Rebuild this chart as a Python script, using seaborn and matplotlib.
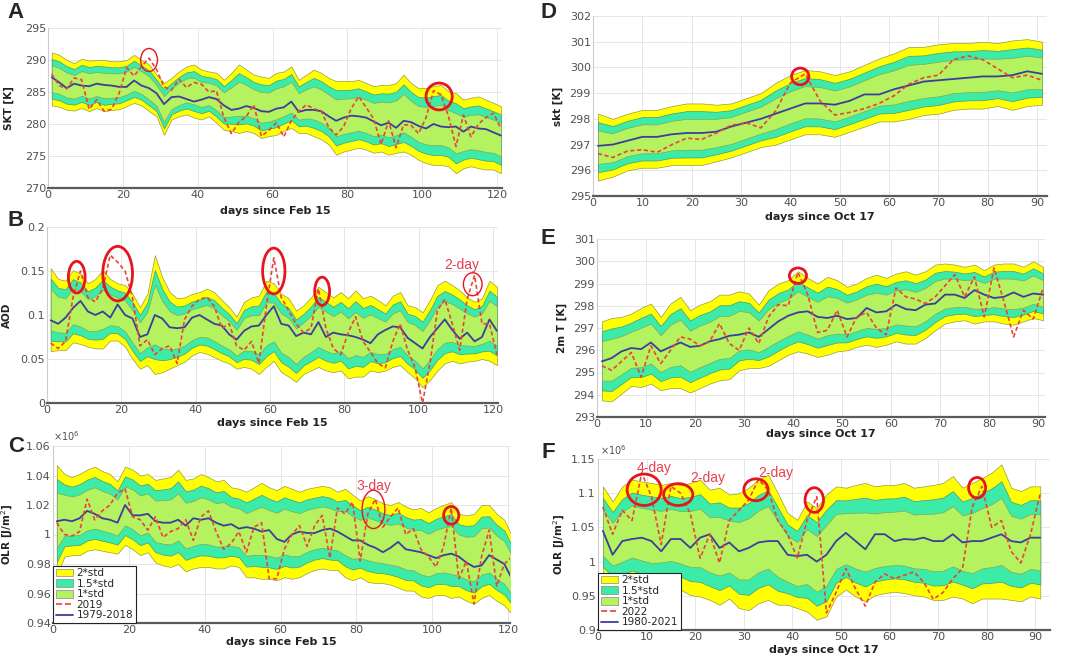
import numpy as np
import seaborn as sns
import matplotlib.pyplot as plt
from matplotlib.patches import Ellipse, Patch
from matplotlib.lines import Line2D

sns.set_theme(style="whitegrid")
plt.rcParams["font.family"] = ["DejaVu Sans"]

# ---------------- data ----------------
# panel A: SKT, days since Feb 15 (every 2nd day)
a_days = list(range(1, 122, 2))
a_upper = [291.2, 290.8, 290.0, 289.5, 290.2, 289.9, 290.0, 290.0, 289.8, 289.8,
           290.0, 290.8, 290.0, 289.3, 287.7, 286.4, 287.2, 288.2, 289.0, 289.3,
           288.5, 288.2, 288.0, 286.9, 288.0, 289.3, 288.5, 287.7, 287.4, 287.2,
           288.0, 288.2, 289.0, 286.9, 287.7, 288.5, 288.0, 287.2, 286.7, 286.7,
           286.7, 286.9, 286.4, 285.9, 286.1, 286.1, 286.4, 287.7, 286.4, 285.6,
           285.6, 285.9, 286.1, 285.1, 284.8, 283.8, 284.1, 284.3, 283.8, 283.3,
           282.8]
a_lower = [282.9, 282.7, 282.2, 282.1, 282.5, 282.0, 282.5, 282.0, 282.2, 282.3,
           282.8, 283.3, 282.9, 282.0, 281.2, 278.3, 280.7, 281.2, 281.5, 281.0,
           280.7, 281.2, 280.2, 279.1, 278.9, 278.6, 278.9, 278.6, 277.8, 278.1,
           278.3, 278.9, 279.4, 278.6, 278.6, 278.1, 277.6, 276.8, 275.2, 275.7,
           276.0, 276.3, 276.0, 275.5, 275.7, 275.2, 275.5, 275.7, 275.2, 274.4,
           273.9, 273.6, 273.6, 273.4, 272.3, 273.1, 273.4, 273.1, 272.9, 272.9,
           272.3]
a_clim = [287.3, 286.5, 285.6, 286.3, 286.0, 285.9, 286.3, 286.1, 286.0, 285.8,
          285.8, 286.8, 286.0, 285.6, 284.8, 283.1, 284.2, 284.3, 283.9, 283.5,
          283.8, 284.2, 283.9, 282.9, 282.2, 282.4, 282.8, 282.5, 282.0, 281.9,
          282.4, 282.6, 283.5, 281.9, 282.2, 282.2, 282.0, 281.2, 280.5, 281.0,
          281.3, 281.2, 281.0, 280.4, 279.8, 280.2, 279.4, 280.5, 280.3, 279.7,
          279.3, 280.0, 279.6, 279.5, 279.6, 278.8, 279.6, 279.3, 279.2, 278.7,
          278.2]
a_year = [287.8, 286.0, 285.5, 287.2, 286.9, 282.3, 283.8, 282.0, 282.3, 284.8,
          288.8, 287.5, 289.0, 290.3, 288.5, 285.8, 285.3, 287.0, 285.7, 286.5,
          286.2, 285.0, 285.2, 281.0, 278.5, 280.3, 281.2, 283.0, 278.1, 279.0,
          280.2, 278.0, 280.5, 282.0, 283.0, 282.4, 282.0, 279.5, 278.3, 279.6,
          282.4, 284.3, 282.6, 280.8, 276.8, 280.5, 276.3, 279.9, 279.8, 278.5,
          281.0, 285.2, 284.6, 281.2, 276.5, 281.4, 278.0, 280.0, 281.0, 281.7,
          279.3]

# panel B: AOD
b_days = list(range(1, 122, 2))
b_upper = [0.153, 0.141, 0.139, 0.151, 0.147, 0.136, 0.141, 0.151, 0.141, 0.136,
           0.134, 0.124, 0.109, 0.124, 0.168, 0.143, 0.126, 0.119, 0.120, 0.124,
           0.126, 0.130, 0.126, 0.117, 0.109, 0.098, 0.115, 0.120, 0.122, 0.139,
           0.136, 0.124, 0.119, 0.105, 0.111, 0.120, 0.132, 0.126, 0.120, 0.126,
           0.119, 0.128, 0.119, 0.122, 0.117, 0.111, 0.122, 0.126, 0.111, 0.109,
           0.103, 0.117, 0.134, 0.139, 0.134, 0.128, 0.120, 0.115, 0.119, 0.139,
           0.132]
b_lower = [0.059, 0.060, 0.060, 0.069, 0.067, 0.064, 0.062, 0.062, 0.071, 0.071,
           0.064, 0.050, 0.039, 0.043, 0.033, 0.035, 0.039, 0.043, 0.047, 0.054,
           0.058, 0.056, 0.052, 0.048, 0.045, 0.039, 0.041, 0.039, 0.033, 0.041,
           0.048, 0.035, 0.030, 0.024, 0.033, 0.037, 0.041, 0.037, 0.035, 0.037,
           0.028, 0.030, 0.030, 0.037, 0.035, 0.037, 0.041, 0.043, 0.035, 0.028,
           0.018, 0.026, 0.037, 0.045, 0.048, 0.045, 0.047, 0.048, 0.050, 0.048,
           0.043]
b_clim = [0.094, 0.090, 0.097, 0.108, 0.116, 0.104, 0.100, 0.104, 0.097, 0.112,
          0.100, 0.096, 0.075, 0.078, 0.100, 0.096, 0.086, 0.085, 0.086, 0.097,
          0.100, 0.095, 0.090, 0.088, 0.078, 0.072, 0.082, 0.087, 0.088, 0.100,
          0.110, 0.090, 0.088, 0.076, 0.080, 0.078, 0.092, 0.075, 0.080, 0.078,
          0.077, 0.075, 0.072, 0.068, 0.078, 0.083, 0.087, 0.086, 0.074, 0.068,
          0.062, 0.075, 0.085, 0.095, 0.083, 0.073, 0.080, 0.070, 0.075, 0.095,
          0.082]
b_year = [0.068, 0.062, 0.070, 0.120, 0.150, 0.120, 0.115, 0.130, 0.168, 0.160,
          0.150, 0.120, 0.065, 0.072, 0.055, 0.062, 0.065, 0.045, 0.095, 0.110,
          0.118, 0.120, 0.110, 0.085, 0.090, 0.065, 0.060, 0.070, 0.045, 0.110,
          0.165, 0.120, 0.105, 0.090, 0.080, 0.085, 0.130, 0.085, 0.062, 0.055,
          0.080, 0.098, 0.070, 0.058, 0.045, 0.040, 0.070, 0.090, 0.060, 0.040,
          0.000, 0.045, 0.105, 0.118, 0.090, 0.060, 0.118, 0.145, 0.090, 0.090,
          0.055]

# panel C: OLR (x 1e6)
c_days = list(range(1, 122, 2))
c_upper = [1.047, 1.041, 1.039, 1.041, 1.044, 1.046, 1.043, 1.041, 1.036, 1.046,
           1.044, 1.040, 1.041, 1.037, 1.038, 1.039, 1.044, 1.037, 1.038, 1.041,
           1.039, 1.036, 1.037, 1.032, 1.031, 1.029, 1.032, 1.035, 1.032, 1.030,
           1.033, 1.031, 1.029, 1.031, 1.032, 1.033, 1.032, 1.029, 1.031, 1.027,
           1.023, 1.026, 1.024, 1.021, 1.020, 1.022, 1.019, 1.017, 1.018, 1.015,
           1.018, 1.020, 1.022, 1.014, 1.013, 1.014, 1.020, 1.020, 1.014, 1.010,
           0.999]
c_lower = [0.972, 0.985, 0.986, 0.986, 0.989, 0.990, 0.989, 0.988, 0.987, 0.993,
           0.990, 0.986, 0.988, 0.981, 0.979, 0.978, 0.980, 0.975, 0.977, 0.978,
           0.978, 0.977, 0.977, 0.979, 0.978, 0.971, 0.971, 0.970, 0.970, 0.969,
           0.971, 0.970, 0.971, 0.974, 0.976, 0.977, 0.976, 0.976, 0.971, 0.969,
           0.971, 0.968, 0.967, 0.967, 0.966, 0.964, 0.962, 0.962, 0.958, 0.957,
           0.959, 0.959, 0.957, 0.958, 0.955, 0.953, 0.957, 0.959, 0.955, 0.952,
           0.946]
c_clim = [1.009, 1.010, 1.009, 1.011, 1.016, 1.014, 1.011, 1.010, 1.008, 1.020,
          1.013, 1.013, 1.014, 1.009, 1.008, 1.008, 1.010, 1.006, 1.011, 1.010,
          1.011, 1.008, 1.006, 1.007, 1.004, 1.005, 1.004, 1.002, 1.003, 0.997,
          0.995, 1.000, 1.002, 1.001, 1.001, 1.003, 1.004, 1.002, 0.999, 0.996,
          0.996, 0.993, 0.991, 0.988, 0.991, 0.995, 0.990, 0.989, 0.988, 0.986,
          0.984, 0.986, 0.987, 0.985, 0.981, 0.978, 0.979, 0.986, 0.983, 0.980,
          0.970]
c_year = [1.008, 1.000, 0.999, 1.002, 1.024, 1.010, 1.016, 1.020, 1.028, 1.031,
          1.012, 1.010, 1.003, 1.012, 0.998, 1.002, 1.004, 1.010, 0.996, 1.012,
          1.016, 1.002, 0.990, 0.994, 1.002, 0.988, 1.005, 1.008, 0.970, 0.970,
          0.990, 1.000, 1.006, 0.992, 1.006, 1.013, 0.984, 1.018, 1.014, 1.022,
          0.982, 1.014, 1.024, 1.005, 1.012, 1.018, 1.000, 1.004, 0.990, 0.985,
          0.978, 0.992, 1.018, 0.970, 0.982, 0.953, 0.985, 1.003, 0.965, 0.980,
          0.985]

# panel D: skt, days since Oct 17 (every 3rd day)
d_days = list(range(1, 92, 3))
d_upper = [298.2, 298.0, 298.2, 298.35, 298.35, 298.5, 298.6, 298.6, 298.55, 298.6,
           298.8, 299.0, 299.4, 299.7, 299.9, 299.85, 299.7, 299.85, 300.1, 300.35,
           300.55, 300.8, 300.8, 300.9, 300.95, 300.95, 301.0, 300.95, 301.05, 301.1,
           301.0]
d_lower = [295.6, 295.75, 296.0, 296.1, 296.1, 296.2, 296.2, 296.2, 296.35, 296.5,
           296.7, 296.9, 297.0, 297.2, 297.4, 297.4, 297.3, 297.5, 297.7, 297.9,
           297.9, 298.0, 298.15, 298.2, 298.35, 298.4, 298.4, 298.5, 298.35, 298.5,
           298.55]
d_clim = [296.95, 297.0, 297.15, 297.3, 297.3, 297.4, 297.45, 297.45, 297.5, 297.7,
          297.85, 298.0, 298.2, 298.4, 298.6, 298.6, 298.55, 298.7, 298.95, 298.95,
          299.15, 299.3, 299.45, 299.5, 299.55, 299.6, 299.65, 299.65, 299.7, 299.85,
          299.75]
d_year = [296.65, 296.5, 296.75, 296.8, 296.7, 297.0, 297.25, 297.2, 297.45, 297.75,
          297.85, 297.65, 298.3, 299.4, 299.75, 298.7, 298.15, 298.25, 298.4, 298.6,
          298.9, 299.35, 299.6, 299.7, 300.3, 300.45, 300.3, 299.95, 299.6, 299.7,
          299.5]

# panel E: 2m T
e_days = list(range(1, 92, 2))
e_upper = [297.3, 297.45, 297.5, 297.65, 297.9, 298.1, 297.5, 298.1, 298.4, 297.8,
           298.05, 298.2, 298.5, 298.5, 298.65, 298.55, 298.05, 298.7, 299.0, 299.15,
           299.55, 299.25, 299.0, 299.3, 299.15, 298.85, 299.0, 299.25, 299.4, 299.25,
           299.45, 299.55, 299.4, 299.55, 299.85, 299.9, 299.85, 299.75, 299.85, 299.6,
           299.85, 299.9, 299.9, 299.75, 300.0, 299.75]
e_lower = [293.75, 293.7, 294.05, 294.4, 294.35, 294.5, 294.2, 294.3, 294.3, 294.1,
           294.3, 294.5, 294.65, 294.7, 295.1, 295.2, 295.2, 295.3, 295.55, 295.8,
           295.95, 295.85, 295.7, 295.8, 295.95, 296.0, 296.15, 296.25, 296.15, 296.25,
           296.4, 296.3, 296.3, 296.55, 296.9, 297.2, 297.3, 297.35, 297.2, 297.3,
           297.3, 297.2, 297.15, 297.3, 297.45, 297.35]
e_clim = [295.5, 295.65, 295.95, 296.1, 296.05, 296.35, 295.95, 296.15, 296.35, 296.15,
          296.2, 296.4, 296.5, 296.65, 296.7, 296.8, 296.6, 296.95, 297.3, 297.55,
          297.7, 297.75, 297.5, 297.45, 297.55, 297.4, 297.45, 297.9, 297.7, 297.75,
          298.05, 297.85, 297.8, 298.05, 298.1, 298.5, 298.5, 298.35, 298.7, 298.5,
          298.35, 298.4, 298.6, 298.4, 298.55, 298.5]
e_year = [295.3, 295.1, 295.5, 295.9, 294.8, 296.2, 295.4, 296.0, 296.6, 296.5,
          296.2, 296.4, 297.2, 296.3, 296.0, 297.0, 296.3, 297.5, 298.05, 298.0,
          299.5, 298.5, 296.8, 296.9, 297.8, 296.6, 297.5, 297.7, 297.0, 296.7,
          298.8, 298.4, 298.3, 298.1, 298.4, 298.9, 299.4, 298.4, 299.3, 297.5,
          299.7, 298.2, 296.6, 297.8, 297.4, 298.8]

# panel F: OLR (x 1e6)
f_days = list(range(1, 92, 2))
f_upper = [1.110, 1.088, 1.110, 1.120, 1.117, 1.115, 1.112, 1.115, 1.112, 1.115,
           1.120, 1.105, 1.108, 1.098, 1.100, 1.108, 1.120, 1.127, 1.100, 1.071,
           1.061, 1.088, 1.078, 1.098, 1.110, 1.108, 1.112, 1.115, 1.110, 1.112,
           1.112, 1.115, 1.108, 1.110, 1.112, 1.115, 1.125, 1.108, 1.115, 1.122,
           1.130, 1.142, 1.108, 1.103, 1.110, 1.110]
f_lower = [0.975, 0.963, 0.963, 0.968, 0.963, 0.959, 0.961, 0.963, 0.959, 0.951,
           0.949, 0.944, 0.937, 0.946, 0.932, 0.929, 0.939, 0.944, 0.937, 0.937,
           0.932, 0.927, 0.915, 0.920, 0.949, 0.959, 0.949, 0.942, 0.951, 0.954,
           0.956, 0.954, 0.951, 0.949, 0.944, 0.944, 0.949, 0.946, 0.939, 0.946,
           0.946, 0.946, 0.944, 0.942, 0.949, 0.946]
f_clim = [1.045, 1.010, 1.030, 1.033, 1.035, 1.030, 1.015, 1.033, 1.033, 1.020,
          1.035, 1.040, 1.020, 1.028, 1.015, 1.020, 1.028, 1.030, 1.030, 1.010,
          1.008, 1.010, 1.000, 1.010, 1.030, 1.042, 1.030, 1.018, 1.040, 1.040,
          1.030, 1.033, 1.032, 1.035, 1.030, 1.030, 1.040, 1.028, 1.030, 1.030,
          1.035, 1.040, 1.030, 1.028, 1.035, 1.035]
f_year = [1.080, 1.040, 1.075, 1.060, 1.130, 1.095, 1.025, 1.110, 1.100, 1.070,
          1.005, 1.040, 0.998, 1.060, 1.075, 1.090, 1.120, 1.105, 1.060, 1.040,
          1.005, 1.060, 1.095, 0.925, 0.955, 0.990, 0.960, 0.935, 0.970, 0.982,
          0.975, 0.980, 0.985, 0.970, 0.945, 0.955, 0.975, 0.990, 1.080, 1.110,
          1.050, 1.060, 1.015, 0.998, 1.040, 1.100]

# red circles: (day, value, width, height, linewidth)
a_circles = [(27, 290.0, 4.5, 3.6, 1.0), (104.5, 284.3, 7, 4.2, 2.0)]
b_circles = [(8, 0.143, 4.5, 0.036, 2.0), (19, 0.147, 8, 0.062, 2.0),
             (61, 0.150, 6, 0.052, 2.0), (74, 0.127, 4, 0.032, 2.0),
             (114.5, 0.135, 5, 0.026, 1.0)]
c_circles = [(84.5, 1.017, 6, 0.026, 1.0), (105, 1.013, 4, 0.012, 2.0)]
d_circles = [(42, 299.65, 3.5, 0.65, 2.0)]
e_circles = [(41, 299.35, 3.5, 0.7, 2.0)]
f_circles = [(9.5, 1.105, 7, 0.046, 2.0), (16.5, 1.098, 6, 0.032, 2.0),
             (32.5, 1.105, 5, 0.032, 2.0), (44.5, 1.090, 3.8, 0.036, 2.0),
             (78, 1.108, 3.5, 0.030, 2.0)]
b_notes = [(111.5, 0.157, "2-day")]
c_notes = [(84.5, 1.033, "3-day")]
f_notes = [(11.5, 1.137, "4-day"), (22.5, 1.122, "2-day"), (36.5, 1.129, "2-day")]

YEL = "#ffff00"
CYAN = "#3deba8"
GREEN = "#b4f260"
BLUE = "#3d3d9e"
RED = "#ec4336"

fig = plt.figure(figsize=(10.65, 6.57), dpi=100)
W, H = 1065, 657


def make_ax(l, r, t, b):
    return fig.add_axes([l / W, 1 - b / H, (r - l) / W, (b - t) / H])


def panel(ax, days, upper, lower, clim, year, circles, notes):
    u = np.array(upper)
    lo = np.array(lower)
    c = (u + lo) / 2
    s = (u - lo) / 4
    ax.fill_between(days, c - 2 * s, c + 2 * s, color=YEL, ec="#9a9a40", lw=0.5, zorder=2)
    ax.fill_between(days, c - 1.5 * s, c + 1.5 * s, color=CYAN, ec="#4a9a78", lw=0.5, zorder=2)
    ax.fill_between(days, c - s, c + s, color=GREEN, ec="#7aaa58", lw=0.5, zorder=2)
    sns.lineplot(x=days, y=clim, ax=ax, color=BLUE, lw=1.3, zorder=3)
    sns.lineplot(x=days, y=year, ax=ax, color=RED, lw=1.2,
                 linestyle=(0, (2.5, 1.6)), zorder=4)
    for x, y, w, h, lw in circles:
        ax.add_patch(Ellipse((x, y), w, h, fill=False, ec="#e8141c", lw=lw, zorder=5))
    for x, y, t in notes:
        ax.text(x, y, t, color="#e8404e", fontsize=10, ha="center", va="center",
                family="Liberation Sans", zorder=6)
    for side in ("top", "right"):
        ax.spines[side].set_visible(False)
    ax.spines["bottom"].set_color("#5a5a5a")
    ax.spines["bottom"].set_linewidth(1.6)
    ax.spines["left"].set_color("#cccccc")
    ax.spines["left"].set_linewidth(0.8)
    ax.grid(True, color="#e6e6e6", lw=0.7)
    ax.tick_params(labelsize=8, labelcolor="#505050", pad=1.5, length=0)


def style_labels(ax, xlabel, ylabel, ylx, xly):
    ax.set_xlabel(xlabel, fontsize=8, fontweight="bold", color="#222222")
    ax.set_ylabel(ylabel, fontsize=7.5, fontweight="bold", color="#222222")
    ax.yaxis.set_label_coords(ylx, 0.5)
    ax.xaxis.set_label_coords(0.5, xly)


def legend(ax, year_label, clim_label):
    handles = [Patch(fc=YEL, ec="#888888", lw=0.5), Patch(fc=CYAN, ec="#888888", lw=0.5),
               Patch(fc=GREEN, ec="#888888", lw=0.5),
               Line2D([], [], color=RED, lw=1.2, ls="--"), Line2D([], [], color=BLUE, lw=1.3)]
    labels = ["2*std", "1.5*std", "1*std", year_label, clim_label]
    lg = ax.legend(handles, labels, loc="lower left", fontsize=7.5, frameon=True,
                   fancybox=False, framealpha=1, borderaxespad=0, borderpad=0.25,
                   labelspacing=0.05, handlelength=1.7, handleheight=0.75,
                   handletextpad=0.3)
    lg.get_frame().set_edgecolor("#222222")
    lg.get_frame().set_linewidth(0.8)
    lg.set_zorder(10)


# A
ax = make_ax(48, 502, 28, 188)
panel(ax, a_days, a_upper, a_lower, a_clim, a_year, a_circles, [])
ax.set_xlim(0, 121.3)
ax.set_ylim(270, 295)
ax.set_xticks(range(0, 121, 20))
ax.set_yticks(range(270, 296, 5))
style_labels(ax, "days since Feb 15", "SKT [K]", -0.075, -0.11)

# B
ax = make_ax(47, 498, 227, 403)
panel(ax, b_days, b_upper, b_lower, b_clim, b_year, b_circles, b_notes)
ax.set_xlim(0, 121.3)
ax.set_ylim(0, 0.2)
ax.set_xticks(range(0, 121, 20))
ax.set_yticks([0, 0.05, 0.1, 0.15, 0.2])
ax.set_yticklabels(["0", "0.05", "0.1", "0.15", "0.2"])
style_labels(ax, "days since Feb 15", "AOD", -0.078, -0.085)

# C
ax = make_ax(53, 510, 446, 623)
panel(ax, c_days, c_upper, c_lower, c_clim, c_year, c_circles, c_notes)
ax.set_xlim(0, 120.5)
ax.set_ylim(0.94, 1.06)
ax.set_xticks(range(0, 121, 20))
ax.set_yticks([0.94, 0.96, 0.98, 1.0, 1.02, 1.04, 1.06])
ax.set_yticklabels(["0.94", "0.96", "0.98", "1", "1.02", "1.04", "1.06"])
style_labels(ax, "days since Feb 15", "OLR [J/m$^2$]", -0.083, -0.08)
ax.text(0.0, 1.015, r"$\times10^6$", transform=ax.transAxes, fontsize=7,
        color="#505050", ha="left", va="bottom")
legend(ax, "2019", "1979-2018")

# D
ax = make_ax(593, 1047, 16, 196)
panel(ax, d_days, d_upper, d_lower, d_clim, d_year, d_circles, [])
ax.set_xlim(0, 92)
ax.set_ylim(295, 302)
ax.set_xticks(range(0, 91, 10))
ax.set_yticks(range(295, 303))
style_labels(ax, "days since Oct 17", "skt [K]", -0.066, -0.09)

# E
ax = make_ax(597, 1045, 239, 417)
panel(ax, e_days, e_upper, e_lower, e_clim, e_year, e_circles, [])
ax.set_xlim(0, 91.4)
ax.set_ylim(293, 301)
ax.set_xticks(range(0, 91, 10))
ax.set_yticks(range(293, 302))
style_labels(ax, "days since Oct 17", "2m T [K]", -0.067, -0.067)

# F
ax = make_ax(598, 1050, 459, 630)
panel(ax, f_days, f_upper, f_lower, f_clim, f_year, f_circles, f_notes)
ax.set_xlim(0, 93)
ax.set_ylim(0.9, 1.15)
ax.set_xticks(range(0, 91, 10))
ax.set_yticks([0.9, 0.95, 1.0, 1.05, 1.1, 1.15])
ax.set_yticklabels(["0.9", "0.95", "1", "1.05", "1.1", "1.15"])
style_labels(ax, "days since Oct 17", "OLR [J/m$^2$]", -0.069, -0.088)
ax.text(0.005, 1.01, r"$\times10^6$", transform=ax.transAxes, fontsize=7,
        color="#505050", ha="left", va="bottom")
legend(ax, "2022", "1980-2021")

for letter, x, y in [("A", 16, 13), ("B", 16, 221), ("C", 16, 447),
                     ("D", 548, 12), ("E", 548, 239), ("F", 548, 452)]:
    fig.text(x / W, 1 - y / H, letter, fontsize=16, fontweight="bold",
             family="Liberation Sans", ha="center", va="center")

fig.savefig("out.png", dpi=100)
